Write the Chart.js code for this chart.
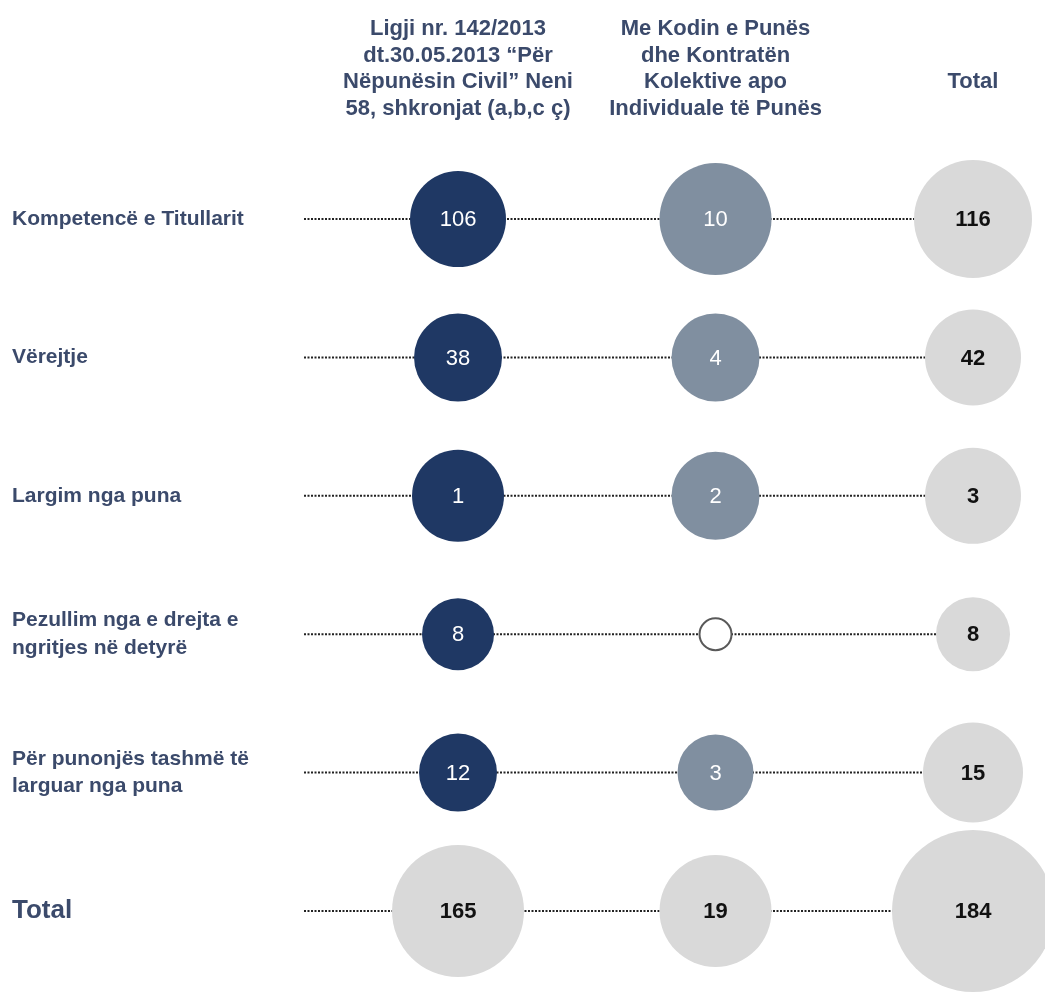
<!DOCTYPE html>
<html>
<head>
<meta charset="utf-8">
<script src="https://cdn.jsdelivr.net/npm/chart.js@4"></script>
<style>
    html, body { margin: 0; padding: 0; background: #fff; }
    #wrap { width: 1045px; height: 992px; }
</style>
</head>
<body>
<div id="wrap"><canvas id="chart"></canvas></div>
<script>
// row labels (top to bottom)
const categories = [
    "Kompetencë e Titullarit",
    "Vërejtje",
    "Largim nga puna",
    ["Pezullim nga e drejta e", "ngritjes në detyrë"],
    ["Për punonjës tashmë të", "larguar nga puna"],
    "Total"
];

// column headers
const columns = [
    ["Ligji nr. 142/2013", "dt.30.05.2013 “Për", "Nëpunësin Civil” Neni", "58, shkronjat (a,b,c ç)"],
    ["Me Kodin e Punës", "dhe Kontratën", "Kolektive apo", "Individuale të Punës"],
    ["Total", ""]
];

const ligjiValues = [106, 38, 1, 8, 12, 165];
const kodiValues = [10, 4, 2, 0, 3, 19];
const totalValues = [116, 42, 3, 8, 15, 184];

// bubble sizes as drawn in the original (not proportional)
const ligjiRadius = [48, 44, 46, 36, 39, 66];
const kodiRadius = [56, 44, 44, 16, 38, 56];
const totalRadius = [59, 48, 48, 37, 50, 81];

const NAVY = "#1f3864";
const SLATE = "#808fa0";
const LIGHT = "#d9d9d9";
const TEXT = "#3b4a6b";
const FONT = "'Liberation Sans', Arial, sans-serif";

function points(values, radius, col) {
    return values.map((v, i) => ({ x: col, y: i, r: radius[i], v: v }));
}

function colorFor(base, values) {
    return values.map((v, i) => {
        if (i === values.length - 1) return LIGHT;
        if (v === 0) return "#ffffff";
        return base;
    });
}

// dotted guide lines behind the bubbles
const rowLines = {
    id: "rowLines",
    beforeDatasetsDraw(chart) {
        const { ctx, chartArea, scales } = chart;
        const endX = scales.x.getPixelForValue(columns.length - 1);
        ctx.save();
        ctx.strokeStyle = "#222";
        ctx.lineWidth = 2;
        ctx.setLineDash([2, 1.5]);
        categories.forEach((c, i) => {
            const y = scales.y.getPixelForValue(i);
            ctx.beginPath();
            ctx.moveTo(chartArea.left + 14, y);
            ctx.lineTo(endX, y);
            ctx.stroke();
        });
        ctx.restore();
    }
};

// numbers inside the bubbles
const bubbleLabels = {
    id: "bubbleLabels",
    afterDatasetsDraw(chart) {
        const { ctx } = chart;
        ctx.save();
        ctx.textAlign = "center";
        ctx.textBaseline = "middle";
        chart.data.datasets.forEach((ds, di) => {
            const meta = chart.getDatasetMeta(di);
            meta.data.forEach((el, i) => {
                const v = ds.data[i].v;
                if (!v) return;
                const dark = di === 2 || i === categories.length - 1;
                ctx.fillStyle = dark ? "#111" : "#fff";
                ctx.font = (dark ? "bold " : "") + "22px " + FONT;
                ctx.fillText(String(v), el.x, el.y + 1);
            });
        });
        ctx.restore();
    }
};

const ctx = document.getElementById("chart").getContext("2d");
new Chart(ctx, {
    type: "bubble",
    data: {
        datasets: [
            {
                data: points(ligjiValues, ligjiRadius, 0),
                backgroundColor: colorFor(NAVY, ligjiValues),
                borderWidth: 0,
                clip: false
            },
            {
                data: points(kodiValues, kodiRadius, 1),
                backgroundColor: colorFor(SLATE, kodiValues),
                borderColor: kodiValues.map(v => v === 0 ? "#595959" : "rgba(0,0,0,0)"),
                borderWidth: kodiValues.map(v => v === 0 ? 2 : 0),
                clip: false
            },
            {
                data: points(totalValues, totalRadius, 2),
                backgroundColor: LIGHT,
                borderWidth: 0,
                clip: false
            }
        ]
    },
    options: {
        responsive: true,
        maintainAspectRatio: false,
        animation: false,
        events: [],
        layout: { padding: { left: 12, top: 0, right: 0, bottom: 0 } },
        plugins: {
            legend: { display: false },
            tooltip: { enabled: false }
        },
        scales: {
            x: {
                type: "linear",
                position: "top",
                min: -0.6525,
                max: 1.965,
                grid: { display: false },
                border: { display: false },
                afterBuildTicks: axis => { axis.ticks = columns.map((c, i) => ({ value: i })); },
                afterFit: axis => { axis.height = 130; },
                ticks: {
                    maxRotation: 0,
                    autoSkip: false,
                    padding: 0,
                    color: TEXT,
                    font: { family: FONT, size: 22, weight: "bold", lineHeight: 1.21 },
                    callback: v => columns[v]
                }
            },
            y: {
                type: "linear",
                reverse: true,
                min: -0.644,
                max: 5.0,
                grid: { display: false },
                border: { display: false },
                afterBuildTicks: axis => { axis.ticks = categories.map((c, i) => ({ value: i })); },
                afterFit: axis => { axis.width = 278; },
                ticks: {
                    crossAlign: "far",
                    autoSkip: false,
                    color: TEXT,
                    font: ctx => ({
                        family: FONT,
                        size: ctx.index === categories.length - 1 ? 26 : 21,
                        weight: "bold",
                        lineHeight: 1.29
                    }),
                    callback: v => categories[v]
                }
            }
        }
    },
    plugins: [rowLines, bubbleLabels]
});
</script>
</body>
</html>
